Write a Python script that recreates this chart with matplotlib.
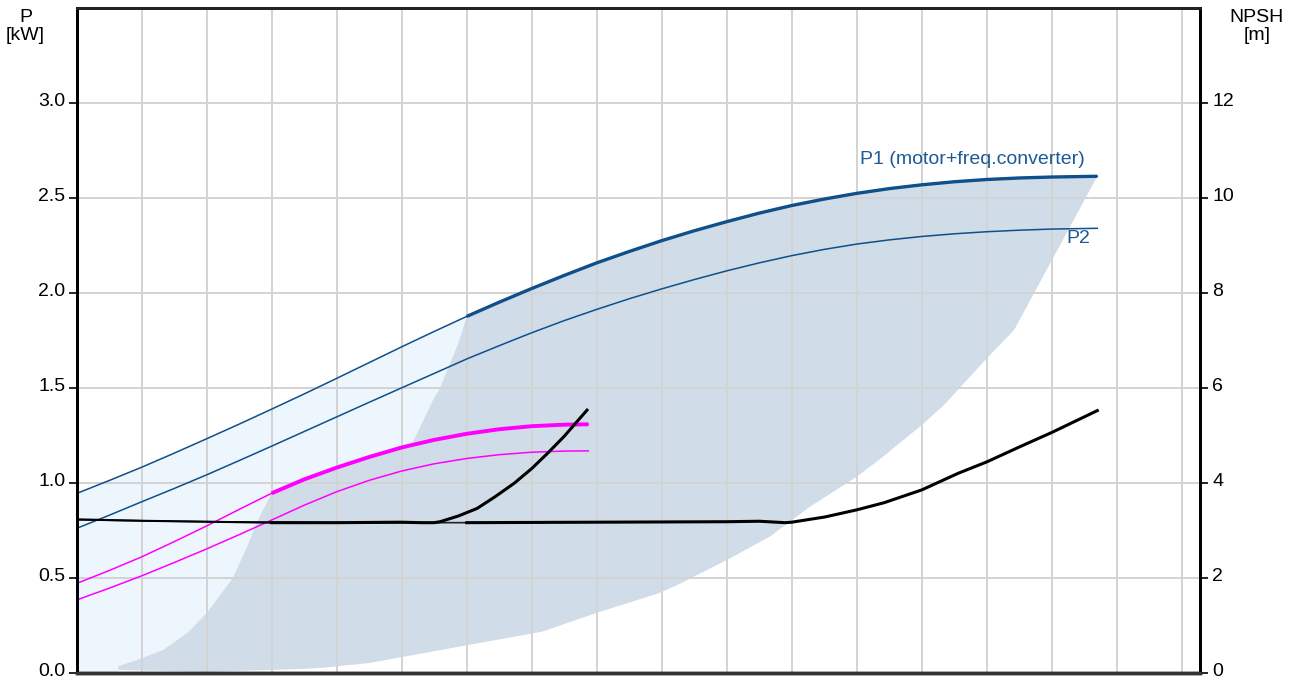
"""
Pump power / NPSH curve chart (P1, P2 at max and min speed, NPSH).
Output: out.png
"""

import numpy as np
import matplotlib.pyplot as plt
from matplotlib.transforms import ScaledTranslation

# ── Data (x in grid units, P in kW, NPSH in m) ────────────────────────────────
Q_MAX = [0, 0.5, 1, 1.5, 2, 2.5, 3, 3.5, 4, 4.5, 5, 5.5, 6, 6.5, 7, 7.5, 8,
         8.5, 9, 9.5, 10, 10.5, 11, 11.5, 12, 12.5, 13, 13.5, 14, 14.5, 15,
         15.7]
P1_MAX = [0.944, 1.012, 1.082, 1.156, 1.232, 1.309, 1.388, 1.468, 1.550,
          1.633, 1.716, 1.797, 1.876, 1.951, 2.023, 2.092, 2.158, 2.218,
          2.275, 2.327, 2.375, 2.420, 2.460, 2.494, 2.524, 2.549, 2.569,
          2.585, 2.597, 2.605, 2.610, 2.614]
P2_MAX = [0.760, 0.829, 0.900, 0.970, 1.042, 1.117, 1.193, 1.270, 1.347,
          1.424, 1.500, 1.576, 1.652, 1.722, 1.790, 1.854, 1.913, 1.969,
          2.021, 2.070, 2.116, 2.158, 2.196, 2.229, 2.257, 2.279, 2.297,
          2.311, 2.322, 2.330, 2.336, 2.340]

Q_MIN = [0, 0.5, 1, 1.5, 2, 2.5, 3, 3.5, 4, 4.5, 5, 5.5, 6, 6.5, 7, 7.5, 7.87]
P1_MIN = [0.470, 0.538, 0.610, 0.690, 0.773, 0.860, 0.945, 1.018, 1.080,
          1.136, 1.186, 1.226, 1.258, 1.282, 1.298, 1.306, 1.308]
P2_MIN = [0.383, 0.445, 0.510, 0.580, 0.652, 0.727, 0.804, 0.882, 0.953,
          1.013, 1.062, 1.100, 1.128, 1.148, 1.161, 1.167, 1.168]

Q_NPSH_MIN = [0, 1, 2, 3, 4, 5, 5.3, 5.5, 5.59, 5.87, 6.16, 6.44, 6.73, 7.0,
              7.25, 7.5, 7.85]
NPSH_MIN = [3.23, 3.20, 3.18, 3.16, 3.16, 3.17, 3.16, 3.16, 3.18, 3.30,
            3.46, 3.71, 3.99, 4.30, 4.63, 4.98, 5.53]

Q_NPSH_MAX = [0, 2, 4, 6, 8, 10, 10.5, 10.9, 11.0, 11.51, 12, 12.42, 13,
              13.56, 14, 14.51, 15, 15.7]
NPSH_MAX = [3.22, 3.18, 3.16, 3.16, 3.17, 3.18, 3.19, 3.16, 3.17, 3.28,
            3.43, 3.58, 3.85, 4.20, 4.44, 4.76, 5.06, 5.52]

# Operating area (dark) boundaries
AREA_TIP_Q = [0.64, 0.93, 1.33, 1.70, 2.0, 2.40, 2.62, 2.77]
AREA_TIP_P = [0.035, 0.067, 0.120, 0.209, 0.314, 0.498, 0.662, 0.793]
AREA_STEEP_Q = [5.17, 5.48, 5.59, 5.87]
AREA_STEEP_P = [1.214, 1.435, 1.500, 1.735]
AREA_LOW_Q = [14.42, 14.0, 13.34, 13.0, 12.37, 12.0, 11.28, 10.66, 10.0,
              9.24, 8.95, 7.98, 7.16, 5.59, 4.5, 3.75, 3.42, 2.0, 0.64]
AREA_LOW_P = [1.804, 1.655, 1.409, 1.304, 1.128, 1.032, 0.874, 0.716, 0.593,
              0.462, 0.418, 0.313, 0.216, 0.119, 0.051, 0.025, 0.019, 0.005,
              0.014]

P_TICKS = [0.0, 0.5, 1.0, 1.5, 2.0, 2.5, 3.0]
NPSH_TICKS = [0, 2, 4, 6, 8, 10, 12]

# ── Style ─────────────────────────────────────────────────────────────────────
BLUE = "#0F4F8A"
TEXT_BLUE = "#1C5A96"
MAGENTA = "#FF00FF"
LIGHT = "#EEF6FD"
DARK = "#D0DCE7"
GRID = "#D3D3D3"
FONT = "Liberation Sans"
FS = 14

plt.rcParams["font.family"] = [FONT, "DejaVu Sans"]

fig = plt.figure(figsize=(12.96, 6.79), dpi=100)
ax = fig.add_axes([76.7 / 1296, 1 - 672.7 / 679, (1200 - 76.7) / 1296,
                   (672.7 - 8) / 679])
ax.set_xlim(0, 17.28)
ax.set_ylim(0, 3.5)

q_max = np.array(Q_MAX)
q_min = np.array(Q_MIN)
p1_max = np.array(P1_MAX)
p1_min = np.array(P1_MIN)

# ── Light area: left of the operating range, under P1 max ───────────────────
left = q_max <= 6
mid = (q_min >= 3) & (q_min <= 5)
light_q = ([0] + list(q_max[left]) + AREA_STEEP_Q[::-1]
           + list(q_min[mid][::-1]) + AREA_TIP_Q[::-1] + [0.64, 0])
light_p = ([0] + list(p1_max[left]) + AREA_STEEP_P[::-1]
           + list(p1_min[mid][::-1]) + AREA_TIP_P[::-1] + [0.0, 0])
ax.fill(light_q, light_p, color=LIGHT, lw=0, zorder=1)

# ── Dark operating area ──────────────────────────────────────────────────────
right = q_max >= 6
dark_q = (AREA_TIP_Q + list(q_min[mid]) + AREA_STEEP_Q + list(q_max[right])
          + AREA_LOW_Q)
dark_p = (AREA_TIP_P + list(p1_min[mid]) + AREA_STEEP_P + list(p1_max[right])
          + AREA_LOW_P)
ax.fill(dark_q, dark_p, color=DARK, lw=0, zorder=1.1)

# ── Grid ─────────────────────────────────────────────────────────────────────
for gx in range(1, 18):
    ax.axvline(gx, color=GRID, lw=1.4, zorder=1.5)
for gy in np.arange(0.5, 3.5, 0.5):
    ax.axhline(gy, color=GRID, lw=1.4, zorder=1.5)

# ── Power curves ─────────────────────────────────────────────────────────────
ax.plot(Q_MAX, P1_MAX, color=BLUE, lw=1.1, zorder=3)
ax.plot(q_max[right], p1_max[right], color=BLUE, lw=2.4, zorder=3,
        solid_capstyle="butt")
ax.plot(Q_MAX, P2_MAX, color=BLUE, lw=1.1, zorder=3)

op_min = q_min >= 3
ax.plot(Q_MIN, P1_MIN, color=MAGENTA, lw=1.1, zorder=3)
ax.plot(q_min[op_min], p1_min[op_min], color=MAGENTA, lw=2.8, zorder=3,
        solid_capstyle="butt")
ax.plot(Q_MIN, P2_MIN, color=MAGENTA, lw=1.1, zorder=3)

ax.text(15.51, 2.70, "P1 (motor+freq.converter)", ha="right", va="center",
        fontsize=FS, color=TEXT_BLUE, zorder=4)
ax.text(15.59, 2.287, "P2", ha="right", va="center", fontsize=FS,
        color=TEXT_BLUE, zorder=4)

# ── NPSH axis and curves ─────────────────────────────────────────────────────
ax2 = ax.twinx()
ax2.set_ylim(0, 14)
q_nmin = np.array(Q_NPSH_MIN)
n_min = np.array(NPSH_MIN)
q_nmax = np.array(Q_NPSH_MAX)
n_max = np.array(NPSH_MAX)
ax2.plot(q_nmax[q_nmax <= 6], n_max[q_nmax <= 6], color="#222222", lw=1.2)
ax2.plot(q_nmin[q_nmin <= 3], n_min[q_nmin <= 3], color="black", lw=1.5)
ax2.plot(q_nmin[q_nmin >= 3], n_min[q_nmin >= 3], color="black", lw=2.2)
ax2.plot(q_nmax[q_nmax >= 6], n_max[q_nmax >= 6], color="black", lw=2.2)

# ── Axes appearance ──────────────────────────────────────────────────────────
ax.set_xticks([])
ax.set_yticks(P_TICKS)
ax.set_yticklabels([f"{v:.1f}" for v in P_TICKS])
ax2.set_yticks(NPSH_TICKS)
ax2.set_yticklabels([str(v) for v in NPSH_TICKS])
ax.tick_params(axis="y", length=6, width=1.2, pad=2, labelsize=FS)
ax2.tick_params(axis="y", length=6, width=1.2, pad=3, labelsize=FS)

# tick labels sit a few pixels above their ticks
lift = ScaledTranslation(0, 0.03, fig.dpi_scale_trans)
for label in ax.get_yticklabels() + ax2.get_yticklabels():
    label.set_transform(label.get_transform() + lift)

for a in (ax, ax2):
    for name, sp in a.spines.items():
        sp.set_linewidth(2)
        sp.set_color("black")
    a.spines["bottom"].set_color("#333333")
    a.spines["bottom"].set_linewidth(2.5)
    a.spines["top"].set_color("#222222")

fig.text(25.5 / 1296, 1 - 26.5 / 679, "P\n[kW]", ha="center", va="center",
         fontsize=FS, linespacing=1.0)
fig.text(1256.7 / 1296, 1 - 26.5 / 679, "NPSH\n[m]", ha="center", va="center",
         fontsize=FS, linespacing=1.0)

fig.savefig("out.png", dpi=100, facecolor="white")
